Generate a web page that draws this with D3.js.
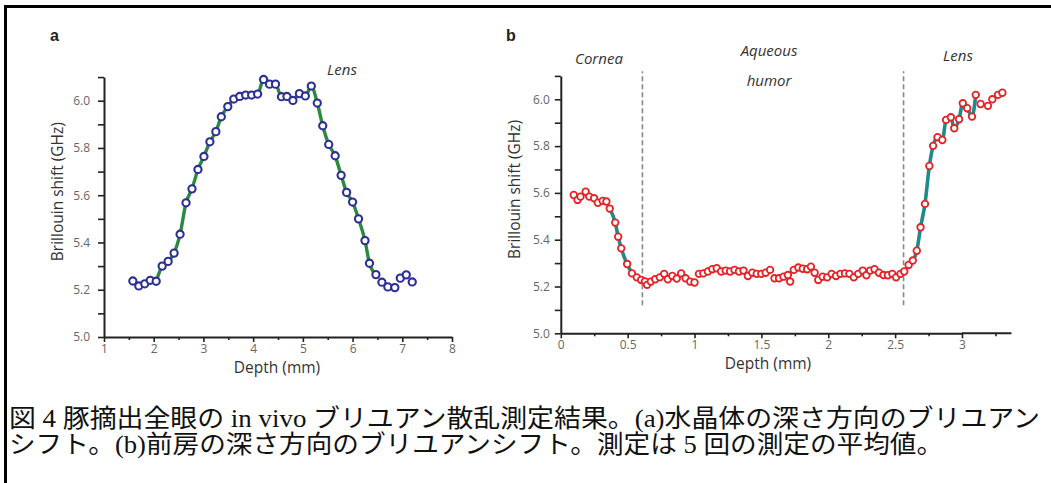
<!DOCTYPE html>
<html><head><meta charset="utf-8">
<script src="https://cdn.jsdelivr.net/npm/d3@7"></script>
<style>
html,body{margin:0;padding:0;background:#fff;}
svg{display:block;}
.tick text{font-family:"Open Sans","Noto Sans",sans-serif;font-size:12px;fill:#666;}
</style></head>
<body><svg id="c" width="1051" height="483"></svg>
<script>
// Panel a: lens depth profile
const depthA = [1.58,1.70,1.82,1.93,2.05,2.17,2.29,2.41,2.53,2.65,2.77,2.89,3.01,3.13,3.25,3.36,3.49,3.61,3.73,3.85,3.97,4.09,4.21,4.33,4.45,4.57,4.68,4.80,4.93,5.05,5.17,5.29,5.40,5.52,5.65,5.77,5.88,6.00,6.12,6.25,6.34,6.47,6.59,6.71,6.85,6.96,7.08,7.20];
const shiftA = [5.237,5.216,5.225,5.240,5.236,5.300,5.320,5.355,5.435,5.568,5.627,5.709,5.764,5.826,5.869,5.932,5.975,6.007,6.018,6.024,6.024,6.028,6.090,6.070,6.070,6.017,6.018,6.001,6.030,6.020,6.062,5.990,5.894,5.815,5.767,5.684,5.612,5.571,5.500,5.408,5.312,5.264,5.232,5.212,5.209,5.249,5.263,5.233];
const fitRangeA = [2.05, 6.47];

// Panel b: cornea, aqueous humor, lens
const depthB = [0.097,0.125,0.147,0.186,0.213,0.249,0.277,0.313,0.341,0.366,0.407,0.429,0.452,0.496,0.532,0.568,0.601,0.629,
0.645,0.673,0.706,0.740,0.773,0.800,0.834,0.867,0.900,0.933,0.967,1.000,1.033,1.066,1.100,1.133,1.166,1.199,1.233,1.266,1.299,1.332,1.366,1.399,1.432,1.465,1.499,1.532,1.565,1.598,1.632,1.665,1.698,1.715,1.742,1.776,1.809,1.842,1.870,1.898,1.925,1.958,1.992,2.025,2.058,2.091,2.125,2.158,2.191,2.224,2.258,2.285,2.313,2.346,2.379,2.413,2.446,2.479,2.507,2.540,2.568,
2.601,2.632,2.662,2.690,2.723,2.756,2.784,2.817,2.853,2.881,2.917,2.942,2.978,3.006,3.039,3.075,3.103,3.139,3.194,3.227,3.269,3.302];
const shiftB = [5.591,5.570,5.584,5.605,5.584,5.577,5.558,5.566,5.563,5.533,5.473,5.413,5.363,5.296,5.256,5.239,5.228,5.222,
5.207,5.221,5.231,5.239,5.254,5.231,5.245,5.234,5.256,5.235,5.221,5.217,5.254,5.256,5.264,5.274,5.278,5.264,5.268,5.264,5.271,5.264,5.268,5.245,5.259,5.254,5.254,5.259,5.271,5.235,5.235,5.242,5.249,5.221,5.271,5.281,5.276,5.274,5.285,5.259,5.228,5.242,5.239,5.254,5.245,5.254,5.256,5.254,5.239,5.254,5.268,5.248,5.268,5.274,5.259,5.249,5.248,5.254,5.239,5.254,5.264,
5.292,5.311,5.353,5.453,5.553,5.715,5.801,5.838,5.826,5.912,5.923,5.876,5.915,5.983,5.962,5.926,6.019,5.980,5.972,6.000,6.019,6.028];
const fitRangesB = [[0.366,0.532],[2.632,3.103]];
const boundariesB = [0.61, 2.563];

const yTicks = [5.0,5.2,5.4,5.6,5.8,6.0];
const yMinor = [5.1,5.3,5.5,5.7,5.9,6.1];
const xTicksA = [1,2,3,4,5,6,7,8];
const xMinorA = [1.5,2.5,3.5,4.5,5.5,6.5,7.5];
const xTicksB = [0,0.5,1,1.5,2,2.5,3];
const xMinorB = [0.25,0.75,1.25,1.75,2.25,2.75,3.25];

const svg = d3.select("#c");
const sans = "Open Sans, Noto Sans, sans-serif";
// frame
svg.append("line").attr("x1",4).attr("x2",1051).attr("y1",6.5).attr("y2",6.5).attr("stroke","#000").attr("stroke-width",3);
svg.append("line").attr("x1",5.5).attr("x2",5.5).attr("y1",5).attr("y2",483).attr("stroke","#000").attr("stroke-width",3);

function panel(o){
  const g = svg.append("g");
  const x = d3.scaleLinear().domain(o.xd).range(o.xr);
  const y = d3.scaleLinear().domain([5,6.1]).range([o.y0, o.y0 - 1.1*o.ppg]);
  const fmtY = d3.format(".1f");
  g.append("g").attr("transform",`translate(${o.xr[0]},0)`)
    .call(d3.axisLeft(y).tickValues(yMinor).tickSize(6).tickFormat(""))
    .call(s=>s.select(".domain").remove());
  g.append("g").attr("transform",`translate(${o.xr[0]},0)`)
    .call(d3.axisLeft(y).tickValues(yTicks).tickSize(6).tickSizeOuter(0).tickFormat(fmtY).tickPadding(o.yPad));
  g.append("g").attr("transform",`translate(0,${o.y0})`)
    .call(d3.axisBottom(x).tickValues(o.xMinor).tickSize(3).tickFormat(""))
    .call(s=>s.select(".domain").remove());
  g.append("g").attr("transform",`translate(0,${o.y0})`)
    .call(d3.axisBottom(x).tickValues(o.xTicks).tickSize(5).tickSizeOuter(0).tickFormat(d=>d3.format("")(d)).tickPadding(2));
  if (o.xExt) {
    g.append("line").attr("x1",x(o.xd[1])).attr("x2",x(o.xExt)).attr("y1",o.y0).attr("y2",o.y0)
      .attr("stroke","#222").attr("stroke-width",2);
  }
  g.selectAll(".domain").attr("stroke","#222").attr("stroke-width",2);
  g.selectAll(".tick line").attr("stroke","#222").attr("stroke-width",1.6);
  const tx = o.xr[0]-46, ty = y(5.615);
  g.append("text").attr("x",tx).attr("y",ty).attr("dy","0.35em").attr("transform",`rotate(-90,${tx},${ty})`)
    .attr("text-anchor","middle").attr("font-family",sans).attr("font-size",15.5).attr("fill","#333")
    .text("Brillouin shift (GHz)");
  g.append("text").attr("x",o.titleX).attr("y",o.y0+36).attr("text-anchor","middle")
    .attr("font-family",sans).attr("font-size",15.5).attr("fill","#333").text("Depth (mm)");
  g.append("text").attr("x",o.letterX).attr("y",41).attr("font-family","Liberation Sans, Arial, sans-serif")
    .attr("font-weight","bold").attr("font-size",16).attr("fill","#222").text(o.letter);
  return {g,x,y};
}

// Panel a
const A = panel({xd:[1,8], xr:[104,452], y0:337, ppg:236.3, xTicks:xTicksA, xMinor:xMinorA, titleX:277, letter:"a", letterX:50, yPad:8});
const fitA = depthA.map((d,i)=>[d,shiftA[i]]).filter(p=>p[0]>=fitRangeA[0]-1e-6 && p[0]<=fitRangeA[1]+1e-6);
A.g.append("path").datum(fitA).attr("fill","none").attr("stroke","#2b8a3e").attr("stroke-width",3.4)
  .attr("d",d3.line().x(p=>A.x(p[0])).y(p=>A.y(p[1])).curve(d3.curveMonotoneX));
A.g.selectAll("circle").data(depthA).join("circle")
  .attr("cx",d=>A.x(d)).attr("cy",(d,i)=>A.y(shiftA[i])).attr("r",3.6)
  .attr("fill","#fff").attr("stroke","#2d2f95").attr("stroke-width",2.1);
A.g.append("text").attr("x",342).attr("y",75).attr("text-anchor","middle").attr("font-style","italic")
  .attr("font-family",sans).attr("font-size",15).attr("fill","#333").text("Lens");

// Panel b
const B = panel({xd:[0,3], xr:[560.8,962], y0:333.3, ppg:234, xTicks:xTicksB, xMinor:xMinorB, titleX:768, letter:"b", letterX:506, xExt:3.37, yPad:5});
B.g.selectAll("line.bound").data(boundariesB).join("line").attr("class","bound")
  .attr("x1",d=>B.x(d)).attr("x2",d=>B.x(d)).attr("y1",B.y(5.12)).attr("y2",B.y(6.12))
  .attr("stroke","#888").attr("stroke-width",1.6).attr("stroke-dasharray","5,3");
fitRangesB.forEach(r=>{
  const seg = depthB.map((d,i)=>[d,shiftB[i]]).filter(p=>p[0]>=r[0]-1e-6 && p[0]<=r[1]+1e-6);
  B.g.append("path").datum(seg).attr("fill","none").attr("stroke","#1d8a8c").attr("stroke-width",3.6)
    .attr("d",d3.line().x(p=>B.x(p[0])).y(p=>B.y(p[1])).curve(d3.curveMonotoneX));
});
B.g.selectAll("circle").data(depthB).join("circle")
  .attr("cx",d=>B.x(d)).attr("cy",(d,i)=>B.y(shiftB[i])).attr("r",3.3)
  .attr("fill","#fff").attr("stroke","#e42326").attr("stroke-width",1.8);
const regions = [["Cornea",599,64],["Aqueous",769,56],["humor",769,86],["Lens",958,61]];
B.g.selectAll("text.reg").data(regions).join("text").attr("class","reg")
  .attr("x",d=>d[1]).attr("y",d=>d[2]).attr("text-anchor","middle").attr("font-style","italic")
  .attr("font-family",sans).attr("font-size",15).attr("fill","#333").text(d=>d[0]);

// Caption
const caption = ["図 4 豚摘出全眼の in vivo ブリユアン散乱測定結果。(a)水晶体の深さ方向のブリユアン",
                 "シフト。(b)前房の深さ方向のブリユアンシフト。測定は 5 回の測定の平均値。"];
const capWidth = [1031, 934];
svg.selectAll("text.cap").data(caption).join("text").attr("class","cap")
  .attr("x",9).attr("y",(d,i)=>427+i*26)
  .attr("font-family","Liberation Serif, Noto Sans CJK JP, serif").attr("font-size",25).attr("fill","#111")
  .attr("textLength",(d,i)=>capWidth[i]).attr("lengthAdjust","spacingAndGlyphs")
  .text(d=>d);
</script></body></html>
